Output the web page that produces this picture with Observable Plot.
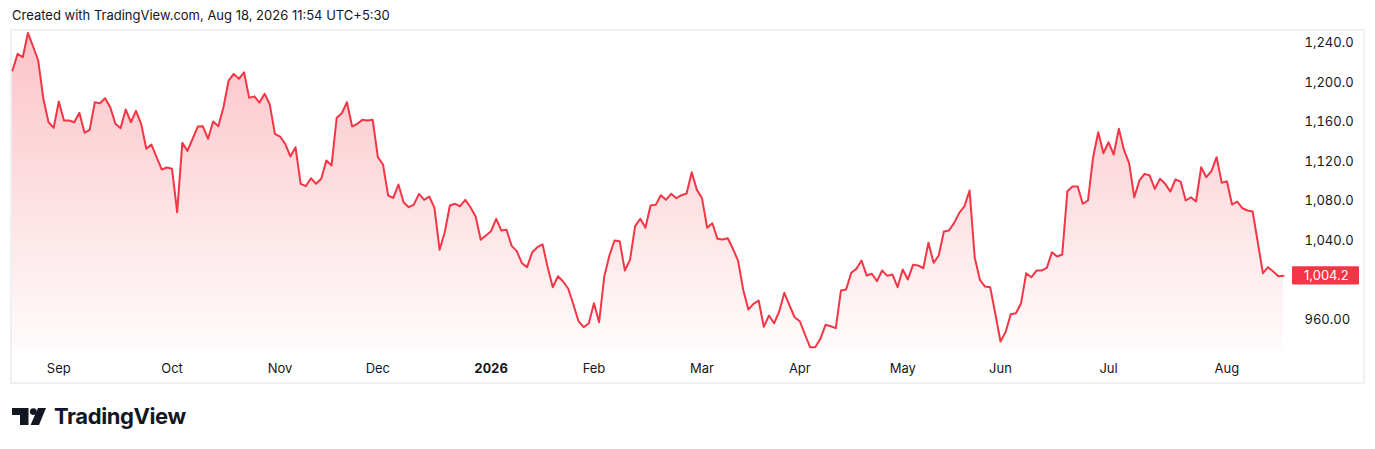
<!DOCTYPE html>
<html>
<head>
<meta charset="utf-8">
<script src="https://cdn.jsdelivr.net/npm/d3@7"></script>
<script src="https://cdn.jsdelivr.net/npm/@observablehq/plot@0.6"></script>
<style>
  html, body { margin: 0; padding: 0; background: #ffffff; }
  #wrap { position: relative; width: 1375px; height: 449px; overflow: hidden;
          font-family: Inter, "Noto Sans", "DejaVu Sans", sans-serif; color: #131722; }
  #credit { position: absolute; left: 12px; top: 7px; font-size: 13px; line-height: 16px;
            white-space: nowrap; color: #131722; }
  #frame { position: absolute; left: 10px; top: 29px; width: 1355px; height: 355px;
           box-sizing: border-box; border: 2px solid #eff0f2; }
  #chart { position: absolute; left: 0; top: 0; }
  #logo { position: absolute; left: 12px; top: 401px; height: 30px; display: flex; align-items: center; }
  #logo span { font-weight: 700; font-size: 22px; letter-spacing: -0.4px; color: #131722; margin-left: 8px; }
</style>
</head>
<body>
<div id="wrap">
  <div id="credit">Created with TradingView.com, Aug 18, 2026 11:54 UTC+5:30</div>
  <div id="frame"></div>
  <div id="chart"></div>
  <div id="logo">
    <svg width="34" height="17" viewBox="0 0 34 17">
      <path d="M0 0 H16.5 V17 H8 V7 H0 Z" fill="#131722"/>
      <circle cx="21.3" cy="3.6" r="3.4" fill="#131722"/>
      <path d="M26 0 H34 L27 17 H18.6 Z" fill="#131722"/>
    </svg>
    <span>TradingView</span>
  </div>
</div>
<script>
// Daily closes, one per trading bar (Aug 2025 → Aug 18, 2026)
const closes = [
  1212.2,1229.1,1225.6,1250.3,1236.5,1222.3,1183.5,1159.8,1154.1,1180.8,
  1161.5,1161.5,1159.8,1169.3,1149.1,1152.1,1180.0,1179.0,1184.1,1175.0,
  1158.2,1153.7,1172.7,1159.8,1171.3,1158.2,1132.9,1137.2,1124.4,1111.9,
  1113.9,1112.6,1068.7,1138.9,1130.8,1143.0,1155.4,1155.7,1143.0,1160.5,
  1155.7,1175.0,1202.0,1208.8,1203.7,1210.4,1184.5,1186.0,1179.7,1188.6,
  1177.7,1148.0,1145.3,1137.9,1125.1,1134.5,1097.4,1095.0,1103.1,1097.4,
  1102.5,1121.0,1115.9,1164.3,1168.9,1180.0,1155.4,1158.2,1162.2,1161.5,
  1162.2,1124.4,1117.0,1085.6,1083.2,1096.7,1078.8,1073.7,1076.4,1087.3,
  1081.2,1084.6,1073.1,1030.6,1048.4,1075.4,1077.2,1074.7,1081.2,1073.7,
  1064.3,1040.7,1045.1,1049.4,1062.0,1050.1,1050.9,1034.6,1029.2,1017.0,
  1013.0,1028.1,1033.2,1036.2,1013.0,992.7,1003.8,998.5,991.1,975.2,
  958.3,952.2,956.2,976.5,957.3,1003.5,1024.8,1040.0,1039.3,1009.6,
  1020.4,1054.5,1062.0,1052.9,1075.4,1076.1,1085.9,1081.2,1087.3,1082.8,
  1085.9,1087.6,1109.2,1091.3,1082.8,1052.9,1057.5,1041.7,1041.0,1042.3,
  1031.6,1019.7,990.1,970.1,975.9,979.2,952.6,964.0,956.2,968.1,
  987.0,974.2,962.3,958.3,944.8,931.9,931.9,940.4,954.6,953.2,
  951.2,989.4,990.4,1007.3,1011.3,1019.7,1004.5,1006.3,998.8,1009.6,
  1004.2,1005.6,992.7,1010.6,1000.5,1015.4,1014.7,1011.9,1037.7,1017.4,
  1024.8,1049.1,1050.1,1057.9,1068.0,1074.7,1090.6,1022.5,1000.2,993.4,
  992.7,965.8,937.7,947.3,965.4,966.4,976.5,1006.9,1002.8,1009.6,
  1009.6,1012.3,1028.1,1023.8,1025.8,1089.9,1094.7,1094.7,1077.2,1080.5,
  1124.4,1149.7,1128.4,1139.5,1127.1,1153.1,1131.8,1118.3,1083.8,1100.8,
  1107.5,1105.8,1092.3,1102.5,1097.4,1089.6,1101.8,1099.7,1080.5,1083.8,
  1079.5,1114.2,1104.1,1110.2,1124.4,1098.4,1100.0,1076.4,1079.5,1072.7,
  1070.4,1069.4,1038.3,1006.9,1013.0,1008.6,1003.8,1004.2
];

// Time-axis labels: bar index of first bar of each month
const monthTickBars   = [9, 31, 52, 71, 113, 134, 153, 173, 192, 213, 236];
const monthTickLabels = ["Sep", "Oct", "Nov", "Dec", "Feb", "Mar", "Apr", "May", "Jun", "Jul", "Aug"];
const yearTickBars    = [93];
const yearTickLabels  = ["2026"];

// Price axis
const priceTicks      = [960, 1040, 1080, 1120, 1160, 1200, 1240];
const priceTickLabels = ["960.00", "1,040.0", "1,080.0", "1,120.0", "1,160.0", "1,200.0", "1,240.0"];
const priceDomain     = [928.6, 1252.7];
const lastPrice       = 1004.2;
const lastPriceLabel  = "1,004.2";

const RED = "#F23645";
const W = 1375, H = 449, MT = 30, MB = 99, ML = 12, MR = 92;

const data = closes.map((c, i) => ({bar: i, close: c}));

const gradientDefs = () => {
  const defs = d3.create("svg:defs");
  const lg = defs.append("linearGradient")
    .attr("id", "tvFill").attr("gradientUnits", "userSpaceOnUse")
    .attr("x1", 0).attr("x2", 0).attr("y1", MT).attr("y2", H - MB);
  lg.append("stop").attr("offset", "0%").attr("stop-color", RED).attr("stop-opacity", 0.30);
  lg.append("stop").attr("offset", "100%").attr("stop-color", RED).attr("stop-opacity", 0.02);
  return defs.node();
};

const priceTag = (index, scales) => {
  const y = scales.y(lastPrice);
  const g = d3.create("svg:g");
  g.append("rect").attr("x", W - MR + 9).attr("y", y - 9.2)
    .attr("width", 67).attr("height", 18.4).attr("rx", 1).attr("fill", RED);
  g.append("text").attr("x", W - MR + 21).attr("y", y).attr("dy", "0.35em")
    .attr("text-anchor", "start")
    .attr("fill", "#ffffff").attr("font-size", 13).text(lastPriceLabel);
  return g.node();
};

const chart = Plot.plot({
  width: W, height: H,
  marginTop: MT, marginBottom: MB, marginLeft: ML, marginRight: MR,
  style: {background: "transparent", fontFamily: "Inter, 'Noto Sans', sans-serif", fontSize: "13px", color: "#131722"},
  x: {type: "linear", domain: [0, closes.length - 1], label: null},
  y: {domain: priceDomain, label: null},
  marks: [
    gradientDefs,
    Plot.areaY(data, {x: "bar", y1: priceDomain[0], y2: "close", fill: "url(#tvFill)"}),
    Plot.lineY(data, {x: "bar", y: "close", stroke: RED, strokeWidth: 2, strokeLinejoin: "round"}),
    Plot.axisY(priceTicks, {anchor: "right", tickSize: 0, tickPadding: 21, textAnchor: "start",
      tickFormat: d => priceTickLabels[priceTicks.indexOf(d)], fill: "#131722", fontSize: 13}),
    Plot.axisX(monthTickBars, {anchor: "bottom", tickSize: 0, tickPadding: 13,
      tickFormat: d => monthTickLabels[monthTickBars.indexOf(d)], fill: "#131722", fontSize: 13}),
    Plot.axisX(yearTickBars, {anchor: "bottom", tickSize: 0, tickPadding: 13, fontWeight: "bold",
      tickFormat: d => yearTickLabels[yearTickBars.indexOf(d)], fill: "#131722", fontSize: 13}),
    priceTag
  ]
});
document.getElementById("chart").appendChild(chart);
</script>
</body>
</html>
